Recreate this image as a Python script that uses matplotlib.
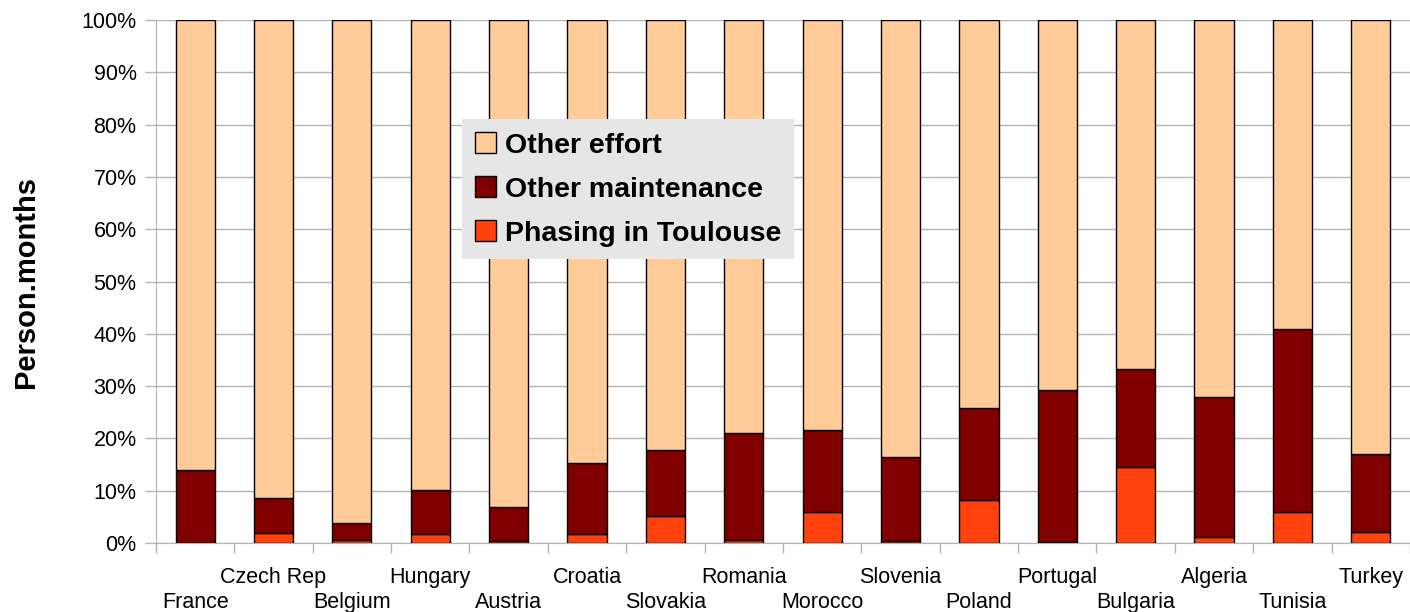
import numpy as np
import matplotlib
matplotlib.use("Agg")
import matplotlib.pyplot as plt

plt.rcParams['font.family'] = ['Liberation Sans', 'DejaVu Sans']

countries = ["France", "Czech Rep", "Belgium", "Hungary", "Austria", "Croatia",
             "Slovakia", "Romania", "Morocco", "Slovenia", "Poland", "Portugal",
             "Bulgaria", "Algeria", "Tunisia", "Turkey"]
# percentages of person.months
phasing = [0.0, 1.9, 0.6, 1.7, 0.4, 1.7, 5.2, 0.6, 5.9, 0.4, 8.2, 0.2, 14.5, 1.1, 5.9, 2.1]
maint_top = [14.0, 8.6, 3.8, 10.1, 6.9, 15.3, 17.8, 21.0, 21.6, 16.4, 25.8, 29.3, 33.3, 27.9, 40.9, 17.1]
maintenance = [m - p for m, p in zip(maint_top, phasing)]
other_effort = [100 - m for m in maint_top]

c_other = "#FFCC99"
c_maint = "#800000"
c_phase = "#FF420E"
grid_c = "#b3b3b3"

fig = plt.figure(figsize=(14.1, 6.12), dpi=100)
ax = fig.add_axes([0.1106, 0.1127, 0.8894, 0.8546])

x = np.arange(len(countries))
w = 0.5
b1 = ax.bar(x, phasing, w, color=c_phase, edgecolor="black", linewidth=1, label="Phasing in Toulouse", zorder=3)
b2 = ax.bar(x, maintenance, w, bottom=phasing, color=c_maint, edgecolor="black", linewidth=1,
            label="Other maintenance", zorder=3)
b3 = ax.bar(x, other_effort, w, bottom=maint_top, color=c_other, edgecolor="black", linewidth=1,
            label="Other effort", zorder=3)

ax.set_xlim(-0.5, len(countries) - 0.5)
ax.set_ylim(0, 100)
ax.set_yticks(np.arange(0, 101, 10))
ax.set_yticklabels([f"{v}%" for v in range(0, 101, 10)], fontsize=15.5)
ax.yaxis.grid(True, color=grid_c, linewidth=1, zorder=0)
ax.set_axisbelow(True)

# category boundaries as major ticks, labels on minor ticks at centres
ax.set_xticks(np.arange(-0.5, len(countries), 1.0))
ax.set_xticklabels([])
ax.set_xticks(x, minor=True)
ax.set_xticklabels(countries, minor=True, fontsize=15.5)
ax.tick_params(axis="x", which="major", length=7.5, color=grid_c, width=1)
ax.tick_params(axis="x", which="minor", length=0, pad=17)
# staggered labels: even ones go on a lower row
for i, t in enumerate(ax.xaxis.get_minor_ticks()):
    if i % 2 == 0:
        t.set_pad(35)
ax.tick_params(axis="y", length=8, color=grid_c, width=1, pad=6)

for s in ["top", "right"]:
    ax.spines[s].set_visible(False)
ax.spines["left"].set_color(grid_c)
ax.spines["bottom"].set_color(grid_c)

ax.set_ylabel("Person.months", fontsize=21, fontweight="bold", labelpad=30)

leg = ax.legend(handles=[b3, b2, b1], loc="upper left", bbox_to_anchor=(0.244, 0.81),
                prop={"size": 20.5, "weight": "bold"}, frameon=True, fancybox=False,
                facecolor="#e6e6e6", edgecolor="none", framealpha=1,
                handlelength=0.75, handleheight=0.75, handletextpad=0.3,
                labelspacing=0.62, borderpad=0.45, borderaxespad=0)
leg.set_zorder(5)

fig.savefig("out.png", dpi=100)
